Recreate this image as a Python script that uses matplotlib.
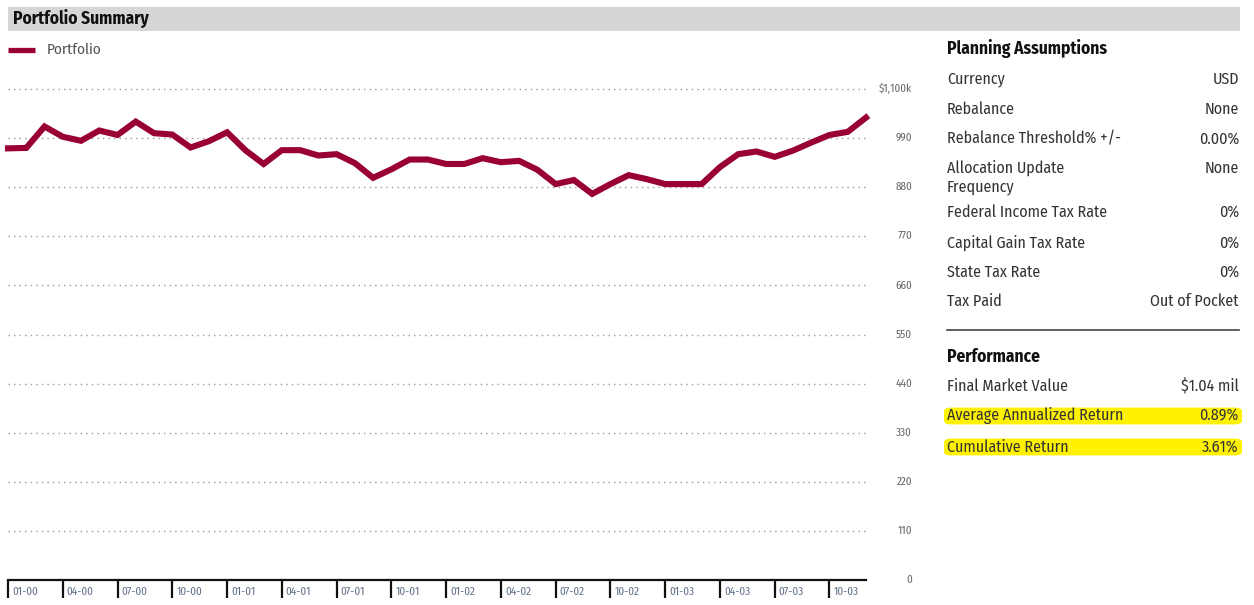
import matplotlib
matplotlib.use("Agg")
import matplotlib.pyplot as plt
from matplotlib.patches import Rectangle, FancyBboxPatch
from matplotlib.lines import Line2D
import matplotlib.transforms as mtransforms

plt.rcParams['font.family'] = ['Fira Sans Condensed', 'DejaVu Sans']

# monthly portfolio value, $k, Jan 2000 - Dec 2003
values = [967, 968, 1016, 993, 984, 1007, 997, 1027, 1001, 998, 969, 983,
          1003, 963, 932, 963, 963, 951, 954, 934, 901, 920, 942, 942,
          932, 932, 945, 936, 939, 919, 887, 896, 865, 887, 907, 898,
          887, 887, 887, 925, 954, 960, 948, 962, 980, 997, 1004, 1036]
quarter_labels = ['01-00', '04-00', '07-00', '10-00', '01-01', '04-01', '07-01', '10-01',
                  '01-02', '04-02', '07-02', '10-02', '01-03', '04-03', '07-03', '10-03']
y_ticks = [0, 110, 220, 330, 440, 550, 660, 770, 880, 990, 1100]
y_labels = ['0', '110', '220', '330', '440', '550', '660', '770', '880', '990', '$1,100k']

assumptions = [('Currency', 'USD'), ('Rebalance', 'None'),
               ('Rebalance Threshold% +/-', '0.00%'),
               ('Allocation Update\nFrequency', 'None'),
               ('Federal Income Tax Rate', '0%'), ('Capital Gain Tax Rate', '0%'),
               ('State Tax Rate', '0%'), ('Tax Paid', 'Out of Pocket')]
performance = [('Final Market Value', '$1.04 mil'),
               ('Average Annualized Return', '0.89%'),
               ('Cumulative Return', '3.61%')]

W, H = 1254, 605
LINE = '#990033'
TEXT = '#333333'
FS = 11.5

fig = plt.figure(figsize=(W / 100, H / 100), dpi=100)


def fx(x):
    return x / W


def fy(y):
    return 1 - y / H


# header bar
fig.patches.append(Rectangle((fx(8), fy(31)), fx(1232), 24 / H, transform=fig.transFigure,
                             facecolor='#d6d6d6', edgecolor='none'))
fig.text(fx(13), fy(19), 'Portfolio Summary', fontsize=12.5, fontweight='bold',
         color='#111111', va='center', ha='left')

# legend
fig.lines.append(Line2D([fx(8), fx(35)], [fy(50), fy(50)], transform=fig.transFigure,
                        color=LINE, lw=3.8, solid_capstyle='butt'))
fig.text(fx(47), fy(50), 'Portfolio', fontsize=11, color='#555555', va='center', ha='left')

# chart
ax = fig.add_axes([fx(8), fy(580), fx(858), 491 / H])
months = list(range(len(values)))
for v in y_ticks[1:]:
    ax.axhline(v, color='#9a9a9a', lw=1, ls=(0, (1, 3)), clip_on=False, zorder=1)
ax.plot(months, values, color=LINE, lw=4.4, solid_joinstyle='miter', zorder=3, clip_on=False)
ax.set_xlim(0, len(values) - 1)
ax.set_ylim(0, 1100)
for s in ['top', 'right', 'left']:
    ax.spines[s].set_visible(False)
ax.spines['bottom'].set_linewidth(1.6)
ax.spines['bottom'].set_color('#111111')
ax.set_yticks([])
ax.set_xticks(months[::3])
ax.set_xticklabels([])
ax.tick_params(axis='x', direction='out', length=13, width=1.6, color='#111111')

xtrans = mtransforms.blended_transform_factory(ax.transData, ax.transAxes)
for m, lab in zip(months[::3], quarter_labels):
    ax.text(m + 0.22, -0.025, lab, transform=xtrans, fontsize=8, color='#5f6f88',
            ha='left', va='center')

ytrans = mtransforms.blended_transform_factory(ax.transAxes, ax.transData)
for v, lab in zip(y_ticks, y_labels):
    ax.text((912 - 8) / 858, v, lab, transform=ytrans, fontsize=8, color='#666666',
            ha='right', va='center')

# side panel
LX, RX = 947, 1239
fig.text(fx(LX), fy(49), 'Planning Assumptions', fontsize=12.5, fontweight='bold',
         color='#111111', va='center')
row_y = [79, 109, 139, 168, 212, 243, 272, 301]
for (name, val), y in zip(assumptions, row_y):
    if '\n' in name:
        first, second = name.split('\n')
        fig.text(fx(LX), fy(y), first, fontsize=FS, color=TEXT, va='center')
        fig.text(fx(LX), fy(y + 19), second, fontsize=FS, color=TEXT, va='center')
    else:
        fig.text(fx(LX), fy(y), name, fontsize=FS, color=TEXT, va='center')
    fig.text(fx(RX), fy(y), val, fontsize=FS, color=TEXT, va='center', ha='right')

fig.lines.append(Line2D([fx(LX), fx(RX)], [fy(330), fy(330)], transform=fig.transFigure,
                        color='#444444', lw=1.2))
fig.text(fx(LX), fy(357), 'Performance', fontsize=12.5, fontweight='bold',
         color='#111111', va='center')

perf_y = [386, 416, 447]
for i, ((name, val), y) in enumerate(zip(performance, perf_y)):
    if i > 0:
        fig.patches.append(FancyBboxPatch((fx(949), fy(y + 6)), fx(288), 12 / H,
                                          boxstyle='round,pad=0.004,rounding_size=0.006',
                                          transform=fig.transFigure, facecolor='#fff200',
                                          edgecolor='none', zorder=0))
    fig.text(fx(LX), fy(y), name, fontsize=FS, color=TEXT, va='center')
    fig.text(fx(RX), fy(y), val, fontsize=FS, color=TEXT, va='center', ha='right')

fig.savefig('out.png', dpi=100)
